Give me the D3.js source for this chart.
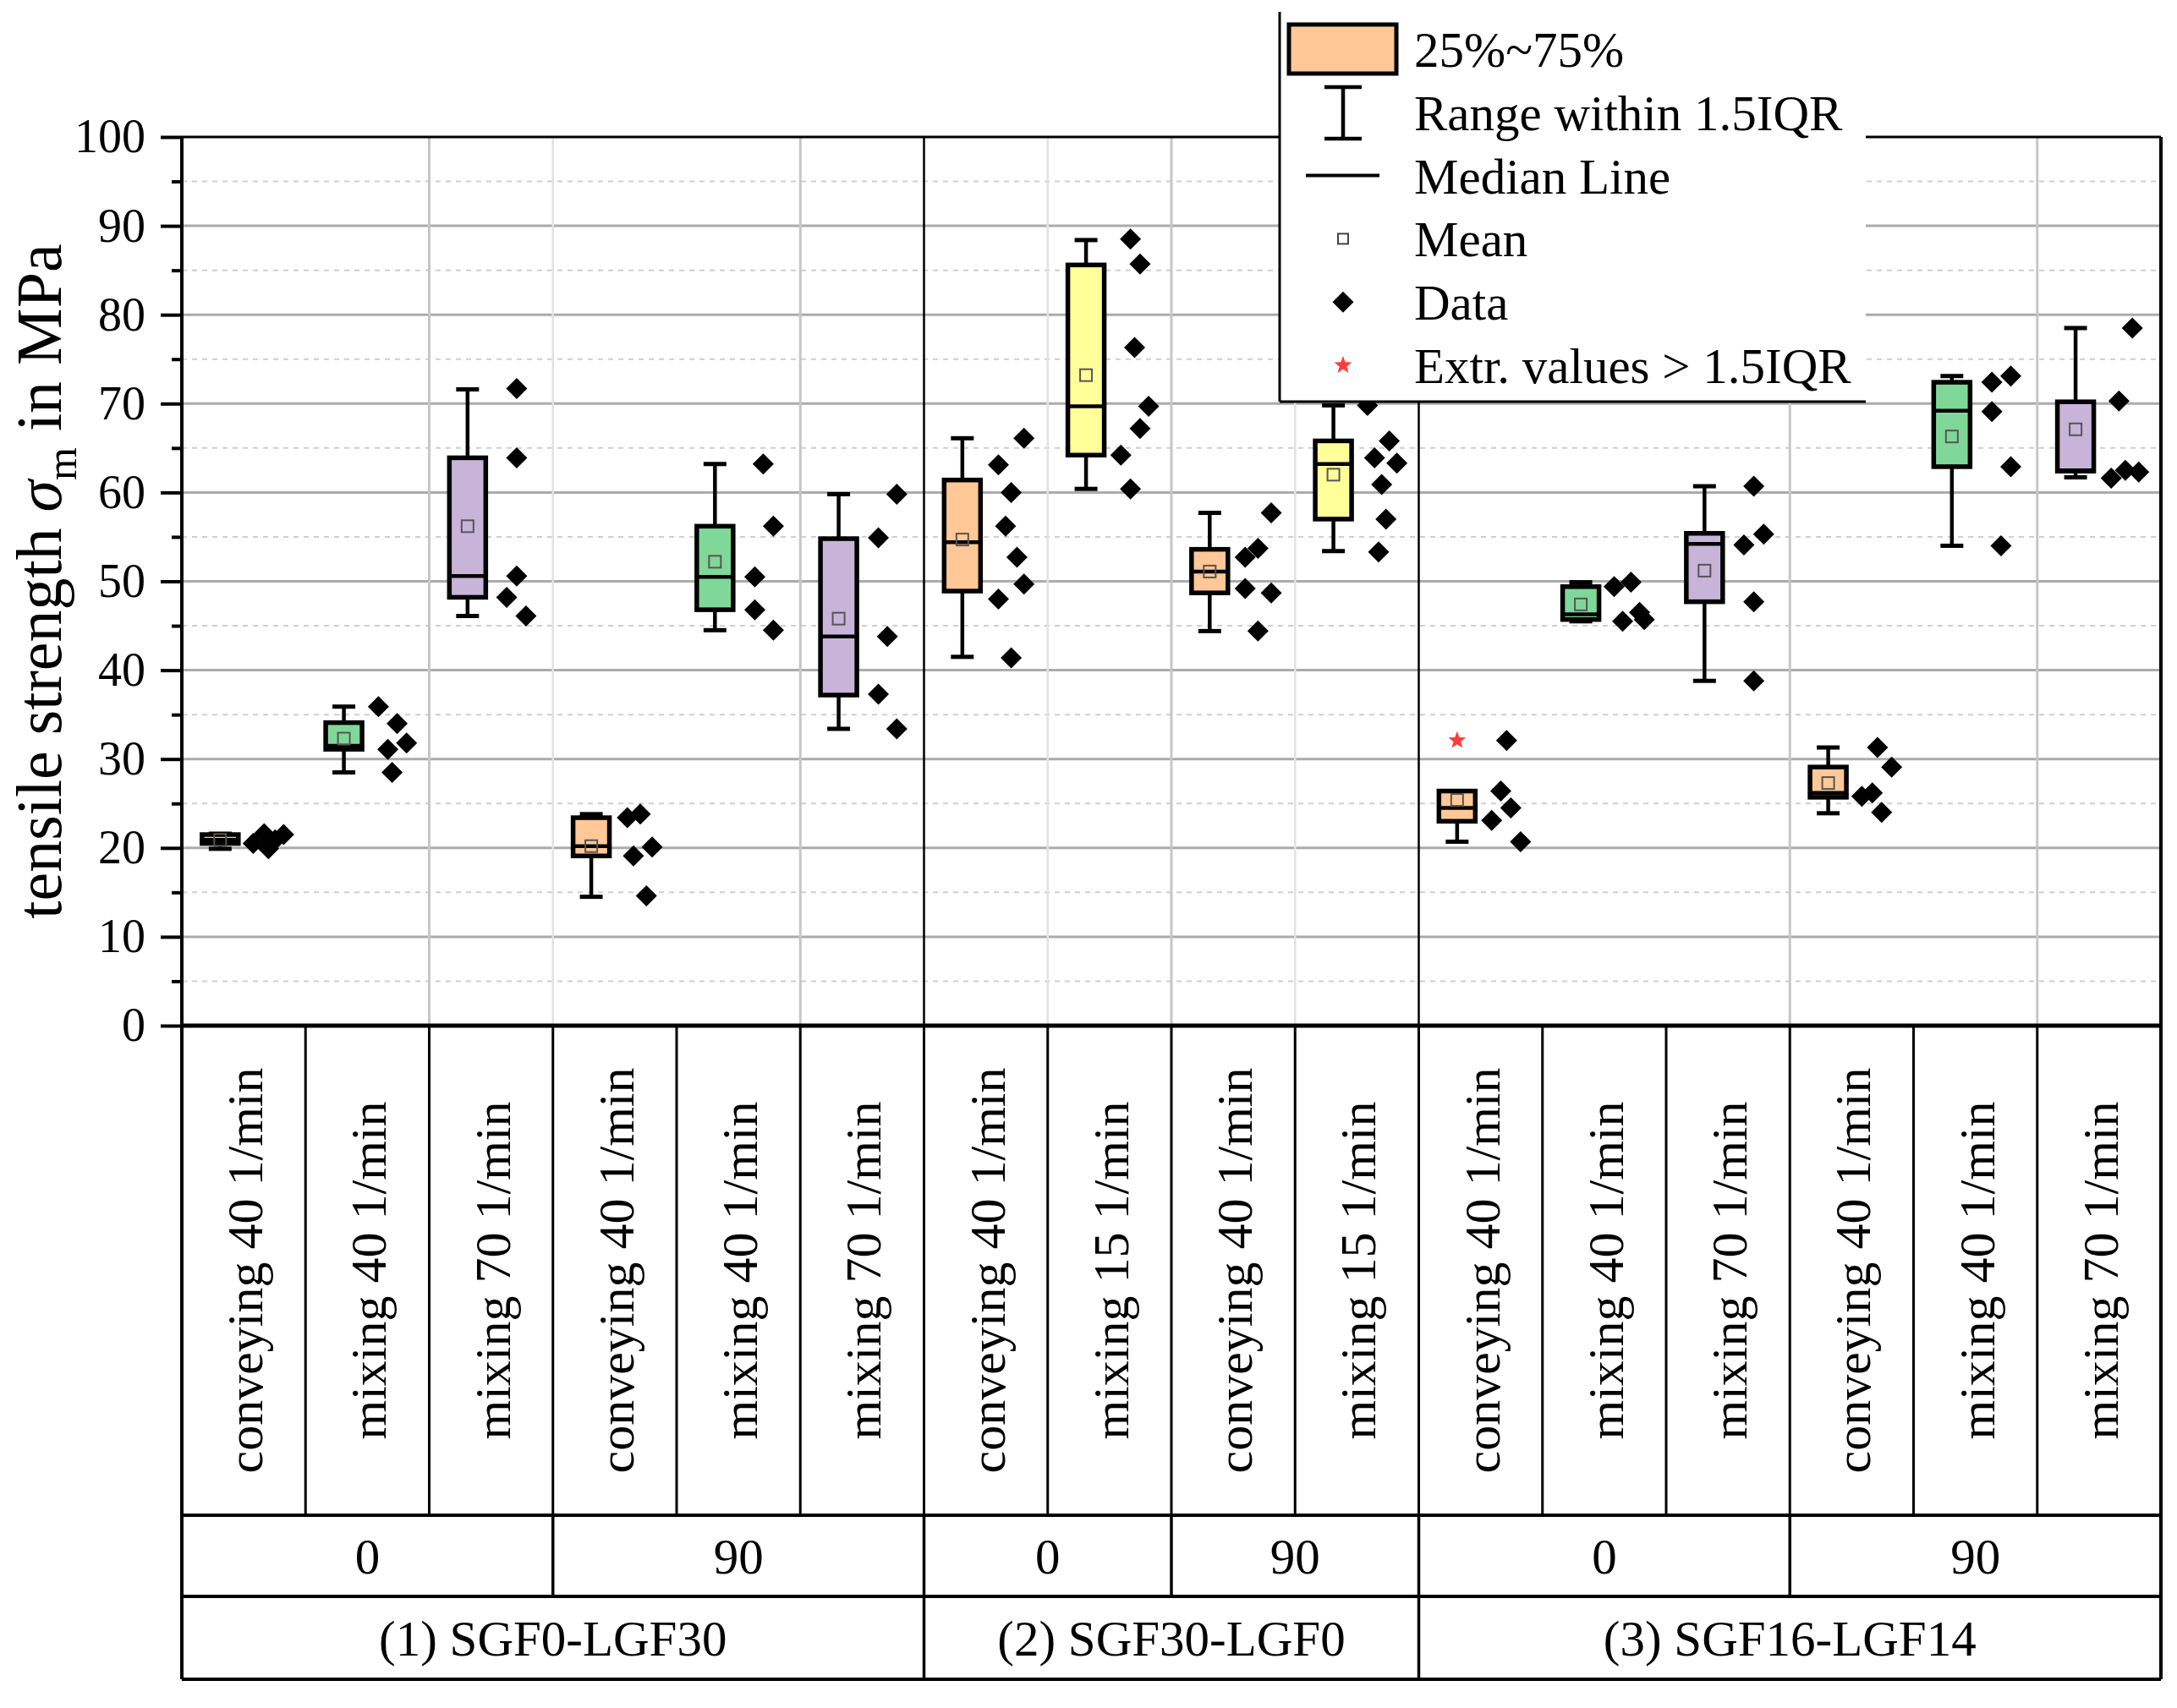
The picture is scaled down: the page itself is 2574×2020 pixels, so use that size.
<!DOCTYPE html>
<html><head><meta charset="utf-8">
<script src="https://cdn.jsdelivr.net/npm/d3@7"></script>
<style>
html,body{margin:0;padding:0;background:#fff;}
svg{display:block;}
text{font-family:"Liberation Serif","Times New Roman",serif;fill:#000;}
</style>
</head><body>
<svg id="chart" width="2574" height="2020"></svg>
<script>
// ---------------- DATA ----------------
const categories = [
  "conveying 40 1/min","mixing 40 1/min","mixing 70 1/min",
  "conveying 40 1/min","mixing 40 1/min","mixing 70 1/min",
  "conveying 40 1/min","mixing 15 1/min",
  "conveying 40 1/min","mixing 15 1/min",
  "conveying 40 1/min","mixing 40 1/min","mixing 70 1/min",
  "conveying 40 1/min","mixing 40 1/min","mixing 70 1/min"
];
const orientationLabels = ["0","90","0","90","0","90"];
const orientationSpans  = [3,3,2,2,3,3];
const materialLabels = ["(1) SGF0-LGF30","(2) SGF30-LGF0","(3) SGF16-LGF14"];
const materialSpans  = [6,4,6];

const whiskerLow  = [19.9,28.5,46.1,14.5,44.5,33.4,41.5,60.4,44.4,53.4,20.7,45.5,38.8,23.9,54.0,61.7];
const q1          = [20.5,31.1,48.2,19.1,46.8,37.2,48.9,64.2,48.7,57.0,23.0,45.7,47.7,25.7,62.9,62.4];
const medians     = [20.9,31.5,50.6,20.2,50.5,43.8,54.4,69.7,51.1,63.2,24.5,46.3,54.2,26.2,69.2,62.5];
const q3          = [21.5,34.1,63.9,23.4,56.2,54.8,61.4,85.6,53.6,65.8,26.4,49.4,55.4,29.1,72.4,70.2];
const whiskerHigh = [21.6,35.9,71.6,23.8,63.2,59.8,66.1,88.4,57.7,69.8,26.4,49.9,60.7,31.3,73.1,78.5];
const means       = [20.9,32.3,56.2,20.2,52.2,45.8,54.7,73.2,51.1,62.0,25.4,47.4,51.2,27.3,66.3,67.1];

const dataPoints = [
  [20.5,21.6,19.9,20.9,21.5],
  [35.9,34.0,31.1,31.8,28.5],
  [71.7,63.9,50.6,48.2,46.1],
  [23.4,23.8,19.1,20.1,14.6],
  [63.2,56.2,50.5,46.8,44.5],
  [59.8,54.9,43.8,37.3,33.4],
  [66.1,63.1,60.0,56.2,52.7,49.7,48.0,41.4],
  [88.5,85.7,76.3,69.7,67.2,64.2,60.4],
  [57.7,53.7,52.7,49.2,48.7,44.4],
  [69.8,65.8,63.9,63.3,60.9,57.0,53.3],
  [32.1,26.4,24.5,23.1,20.7],
  [49.4,49.9,45.5,46.5,45.7],
  [60.7,55.3,54.1,47.7,38.8],
  [31.3,29.1,25.8,26.2,24.0],
  [72.4,73.1,69.1,62.9,54.0],
  [78.5,70.3,61.6,62.5,62.3]
];
// horizontal jitter of each data point (normalised, -1..1)
const pointJitter = [
  [-1.0,-0.28,0,0.44,1.0],
  [-0.9,0.33,-0.28,0.95,0],
  [0.06,0.06,0.06,-0.6,0.67],
  [-0.8,0.05,-0.4,0.83,0.45],
  [0,0.67,-0.55,-0.55,0.67],
  [0.65,-0.56,0.03,-0.56,0.65],
  [0.88,-0.8,0.04,-0.33,0.42,0.88,-0.8,0.04],
  [-0.25,0.38,0.02,0.94,0.38,-0.88,-0.25],
  [0.87,0,-0.84,-0.84,0.87,0],
  [-0.93,0.5,-0.47,1.0,0,0.28,-0.2],
  [0.08,-0.3,0.36,-0.9,1.0],
  [-0.98,0.13,-0.42,0.69,1.0],
  [0.07,0.72,-0.58,0.07,0.07],
  [0.07,1.0,-0.96,-0.27,0.34],
  [-0.54,0.7,-0.54,0.7,0.06],
  [0.56,-0.32,-0.83,0.1,0.98]
];
const outliers = [[],[],[],[],[],[],[],[],[],[],[32.1],[],[],[],[],[]];

const yTicks = [0,10,20,30,40,50,60,70,80,90,100];
const yMinorTicks = [5,15,25,35,45,55,65,75,85,95];
const legendLabels = ["25%~75%","Range within 1.5IQR","Median Line","Mean","Data","Extr. values > 1.5IQR"];

// ---------------- STYLE / LAYOUT ----------------
const L = 215, R = 2555, T = 162, B = 1213;
const row1 = 1792, row2 = 1888, row3 = 1986;
const fillFor = name => name.startsWith("conveying") ? "#FFC896"
  : name.startsWith("mixing 40") ? "#80D898"
  : name.startsWith("mixing 70") ? "#C8B4D8" : "#FFFF99";

const svg = d3.select("#chart");
const idx = d3.range(categories.length);
const x = d3.scaleBand().domain(idx).range([L, R]).padding(0);
const bw = x.bandwidth();
const y = d3.scaleLinear().domain([0, 100]).range([B, T]);
const cx = i => x(i) + bw / 2;
const boxC = i => cx(i) - 0.19 * bw;
const dataC = i => cx(i) + 0.2 * bw;

const gGrid = svg.append("g");
gGrid.selectAll("line.minor").data(yMinorTicks).join("line")
  .attr("x1", L).attr("x2", R).attr("y1", d => y(d)).attr("y2", d => y(d))
  .attr("stroke", "#cfcfcf").attr("stroke-width", 2).attr("stroke-dasharray", "6,6");
gGrid.selectAll("line.major").data(yTicks.filter(d => d > 0 && d < 100)).join("line")
  .attr("x1", L).attr("x2", R).attr("y1", d => y(d)).attr("y2", d => y(d))
  .attr("stroke", "#ababab").attr("stroke-width", 3);
const vMid = [2,5,8,13,15], vFaint = [3,7,9];
gGrid.selectAll("line.vf").data(vFaint).join("line")
  .attr("x1", d => x(d)).attr("x2", d => x(d)).attr("y1", T).attr("y2", B)
  .attr("stroke", "#e2e2e2").attr("stroke-width", 2.5);
gGrid.selectAll("line.vm").data(vMid).join("line")
  .attr("x1", d => x(d)).attr("x2", d => x(d)).attr("y1", T).attr("y2", B)
  .attr("stroke", "#c6c6c6").attr("stroke-width", 3);
const groupBounds = d3.cumsum(materialSpans).slice(0, -1);
gGrid.selectAll("line.gs").data(groupBounds).join("line")
  .attr("x1", d => x(d)).attr("x2", d => x(d)).attr("y1", T).attr("y2", B)
  .attr("stroke", "#000").attr("stroke-width", 2.5);

// boxes
const gBox = svg.append("g");
const boxW = 43, capW = 27;
idx.forEach(i => {
  const g = gBox.append("g");
  const bx = boxC(i);
  g.append("line").attr("x1", bx).attr("x2", bx).attr("y1", y(whiskerLow[i])).attr("y2", y(whiskerHigh[i]))
    .attr("stroke", "#000").attr("stroke-width", 4.5);
  [whiskerLow[i], whiskerHigh[i]].forEach(v => {
    g.append("line").attr("x1", bx - capW / 2).attr("x2", bx + capW / 2).attr("y1", y(v)).attr("y2", y(v))
      .attr("stroke", "#000").attr("stroke-width", 5);
  });
  g.append("rect").attr("x", bx - boxW / 2).attr("width", boxW)
    .attr("y", y(q3[i])).attr("height", Math.max(0.5, y(q1[i]) - y(q3[i])))
    .attr("fill", fillFor(categories[i])).attr("stroke", "#000").attr("stroke-width", 5.5);
  g.append("line").attr("x1", bx - boxW / 2).attr("x2", bx + boxW / 2).attr("y1", y(medians[i])).attr("y2", y(medians[i]))
    .attr("stroke", "#000").attr("stroke-width", 4.5);
  g.append("rect").attr("x", bx - 7).attr("y", y(means[i]) - 7).attr("width", 14).attr("height", 14)
    .attr("fill", "none").attr("stroke", "#555").attr("stroke-width", 2);
});

// data diamonds
const diamond = r => `M0,${-r}L${r},0L0,${r}L${-r},0Z`;
const gPts = svg.append("g");
idx.forEach(i => {
  gPts.selectAll(null).data(dataPoints[i].map((v, k) => ({v, j: pointJitter[i][k]}))).join("path")
    .attr("d", diamond(12.5))
    .attr("transform", d => `translate(${dataC(i) + d.j * 18},${y(d.v)})`)
    .attr("fill", "#000");
});
const starPath = (ro, ri) => d3.range(10).map(k => {
  const a = -Math.PI / 2 + k * Math.PI / 5, r = k % 2 ? ri : ro;
  return (k ? "L" : "M") + (r * Math.cos(a)).toFixed(2) + "," + (r * Math.sin(a)).toFixed(2);
}).join("") + "Z";
idx.forEach(i => {
  gPts.selectAll(null).data(outliers[i]).join("path")
    .attr("d", starPath(11, 4.5)).attr("transform", d => `translate(${boxC(i)},${y(d)})`)
    .attr("fill", "#ff3b3b");
});

// y axis
const yAxis = svg.append("g").attr("transform", `translate(${L},0)`)
  .call(d3.axisLeft(y).tickValues(yTicks).tickSize(25).tickPadding(18).tickFormat(d3.format("d")));
yAxis.select(".domain").remove();
yAxis.selectAll(".tick line").attr("stroke", "#000").attr("stroke-width", 4);
yAxis.selectAll(".tick text").attr("font-size", 56).attr("font-family", "Liberation Serif");
const yMinor = svg.append("g").attr("transform", `translate(${L},0)`)
  .call(d3.axisLeft(y).tickValues(yMinorTicks).tickSize(12).tickFormat(""));
yMinor.select(".domain").remove();
yMinor.selectAll(".tick line").attr("stroke", "#000").attr("stroke-width", 4);

const yl = svg.append("text").attr("transform", `translate(72,${(T + B) / 2}) rotate(-90)`)
  .attr("text-anchor", "middle").attr("font-size", 76);
yl.append("tspan").text("tensile strength ");
yl.append("tspan").attr("font-style", "italic").text("σ");
yl.append("tspan").attr("font-size", 50).attr("dy", 18).text("m");
yl.append("tspan").attr("dy", -18).text(" in MPa");

// frame and table
const gT = svg.append("g").attr("stroke", "#000").attr("fill", "none");
gT.append("line").attr("x1", L).attr("x2", R).attr("y1", T).attr("y2", T).attr("stroke-width", 3);
gT.append("line").attr("x1", L).attr("x2", L).attr("y1", T).attr("y2", row3).attr("stroke-width", 4);
gT.append("line").attr("x1", R).attr("x2", R).attr("y1", T).attr("y2", row3).attr("stroke-width", 4);
gT.append("line").attr("x1", L).attr("x2", R).attr("y1", B).attr("y2", B).attr("stroke-width", 5);
[row1, row2, row3].forEach(yy => gT.append("line").attr("x1", L).attr("x2", R).attr("y1", yy).attr("y2", yy).attr("stroke-width", 4));
d3.range(1, categories.length).forEach(k => gT.append("line").attr("x1", x(k)).attr("x2", x(k)).attr("y1", B).attr("y2", row1).attr("stroke-width", 3));
const oBounds = d3.cumsum(orientationSpans);
oBounds.slice(0, -1).forEach(k => gT.append("line").attr("x1", x(k)).attr("x2", x(k)).attr("y1", row1).attr("y2", row2).attr("stroke-width", 3.5));
groupBounds.forEach(k => gT.append("line").attr("x1", x(k)).attr("x2", x(k)).attr("y1", row2).attr("y2", row3).attr("stroke-width", 3.5));

svg.append("g").selectAll("text").data(categories).join("text")
  .attr("transform", (d, i) => `translate(${cx(i) + 22},${(B + row1) / 2}) rotate(-90)`)
  .attr("text-anchor", "middle").attr("font-size", 60).text(d => d);
const oStart = [0, ...oBounds.slice(0, -1)];
svg.append("g").selectAll("text").data(orientationLabels).join("text")
  .attr("x", (d, k) => (x(oStart[k]) + (oBounds[k] < categories.length ? x(oBounds[k]) : R)) / 2)
  .attr("y", (row1 + row2) / 2).attr("dy", "0.35em")
  .attr("text-anchor", "middle").attr("font-size", 59).text(d => d);
const mBounds = d3.cumsum(materialSpans), mStart = [0, ...mBounds.slice(0, -1)];
svg.append("g").selectAll("text").data(materialLabels).join("text")
  .attr("x", (d, k) => (x(mStart[k]) + (mBounds[k] < categories.length ? x(mBounds[k]) : R)) / 2)
  .attr("y", (row2 + row3) / 2).attr("dy", "0.35em")
  .attr("text-anchor", "middle").attr("font-size", 59).text(d => d);

// legend
const lg = svg.append("g");
const lgL = 1513, lgT = 14, lgR = 2206, lgB = 475;
lg.append("rect").attr("x", lgL).attr("y", lgT).attr("width", lgR - lgL).attr("height", lgB - lgT).attr("fill", "#fff");
lg.append("line").attr("x1", lgL).attr("x2", lgL).attr("y1", lgT).attr("y2", lgB).attr("stroke", "#000").attr("stroke-width", 3);
lg.append("line").attr("x1", lgL).attr("x2", lgR).attr("y1", lgB).attr("y2", lgB).attr("stroke", "#000").attr("stroke-width", 3);
const rowY = k => 58 + k * 74.8;
const ix = 1588;
lg.append("rect").attr("x", 1524).attr("y", 29).attr("width", 127).attr("height", 58)
  .attr("fill", "#FFC896").attr("stroke", "#000").attr("stroke-width", 5);
lg.append("line").attr("x1", ix).attr("x2", ix).attr("y1", 103).attr("y2", 164).attr("stroke", "#000").attr("stroke-width", 4.5);
[103, 164].forEach(v => lg.append("line").attr("x1", ix - 22).attr("x2", ix + 22).attr("y1", v).attr("y2", v).attr("stroke", "#000").attr("stroke-width", 4.5));
lg.append("line").attr("x1", 1544).attr("x2", 1631).attr("y1", rowY(2)).attr("y2", rowY(2)).attr("stroke", "#000").attr("stroke-width", 4);
lg.append("rect").attr("x", ix - 6).attr("y", rowY(3) - 6).attr("width", 12).attr("height", 12)
  .attr("fill", "none").attr("stroke", "#444").attr("stroke-width", 2);
lg.append("path").attr("d", diamond(12.5)).attr("transform", `translate(${ix},${rowY(4)})`).attr("fill", "#000");
lg.append("path").attr("d", starPath(11, 4.5)).attr("transform", `translate(${ix},${rowY(5)})`).attr("fill", "#ff3b3b");
lg.selectAll("text").data(legendLabels).join("text")
  .attr("x", 1672).attr("y", (d, k) => rowY(k) + 21).attr("font-size", 59).text(d => d);
</script>
</body></html>
